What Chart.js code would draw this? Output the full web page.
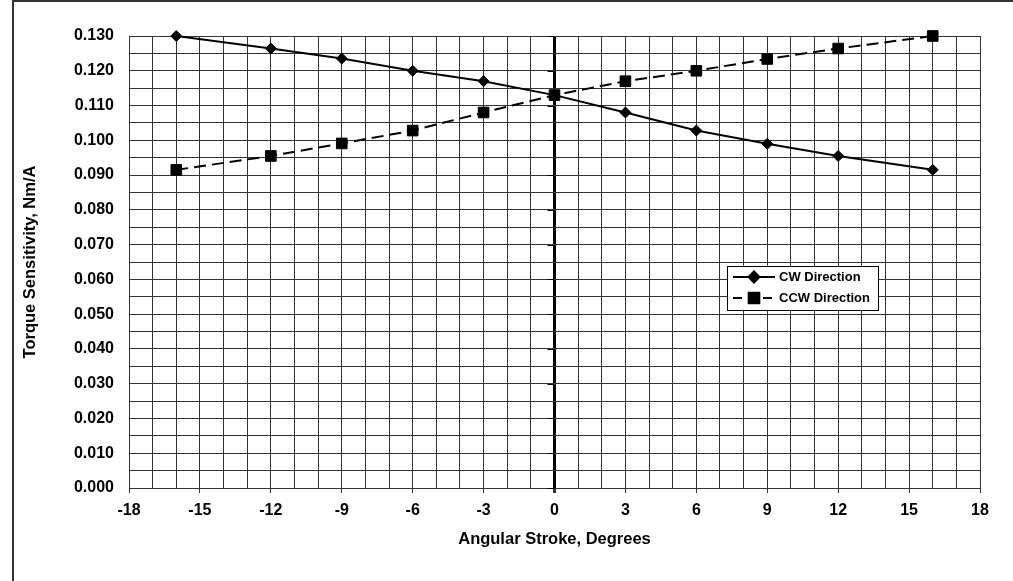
<!DOCTYPE html>
<html>
<head>
<meta charset="utf-8">
<script src="https://cdn.jsdelivr.net/npm/chart.js@4/dist/chart.umd.min.js"></script>
<style>
  html, body { margin:0; padding:0; background:#fff; }
  #wrap { width:1013px; height:581px; }
</style>
</head>
<body>
<div id="wrap"><canvas id="c" width="1013" height="581"></canvas></div>
<script>
// angle (deg) vs torque sensitivity (Nm/A)
const angles    = [-16, -12, -9, -6, -3, 0, 3, 6, 9, 12, 16];
const cwValues  = [0.1300, 0.1264, 0.1235, 0.1200, 0.1170, 0.1130, 0.1080, 0.1028, 0.0990, 0.0955, 0.0915];
const ccwValues = [0.0915, 0.0955, 0.0991, 0.1028, 0.1080, 0.1130, 0.1170, 0.1200, 0.1234, 0.1264, 0.1300];
const seriesNames = ['CW Direction', 'CCW Direction'];
const xTickStep = 3;
const yTickStep = 0.010;

const FONT = '"Liberation Sans", Arial, sans-serif';
const GRID = '#333';

const toPts = vals => angles.map((a, i) => ({x: a, y: vals[i]}));
const isMajorY = v => Math.round(v * 1000) % Math.round(yTickStep * 1000) === 0;

// white background + outer frame (left/top only, rest is cropped)
const frame = {
  id: 'frame',
  beforeDraw(chart){
    const ctx = chart.ctx;
    ctx.save();
    ctx.fillStyle = '#fff';
    ctx.fillRect(0, 0, chart.width, chart.height);
    ctx.strokeStyle = '#333';
    ctx.lineWidth = 2;
    ctx.beginPath();
    ctx.moveTo(13, chart.height);
    ctx.lineTo(13, 1);
    ctx.lineTo(chart.width, 1);
    ctx.stroke();
    ctx.restore();
  }
};

// small tick marks on the value axis crossing at x = 0
const zeroAxisTicks = {
  id: 'zeroAxisTicks',
  beforeDatasetsDraw(chart){
    const {ctx, scales:{x, y}} = chart;
    const px = x.getPixelForValue(0);
    ctx.save();
    ctx.strokeStyle = '#000';
    ctx.lineWidth = 1;
    for (let v = 0; v <= 0.1301; v += yTickStep) {
      const py = Math.round(y.getPixelForValue(v)) + 0.5;
      ctx.beginPath();
      ctx.moveTo(px - 7, py);
      ctx.lineTo(px, py);
      ctx.stroke();
    }
    ctx.restore();
  }
};

// legend box inside the plot, like the original
const boxLegend = {
  id: 'boxLegend',
  afterDraw(chart){
    const ctx = chart.ctx;
    const bx = 727.5, by = 266.5, bw = 151, bh = 44;
    ctx.save();
    ctx.fillStyle = '#fff';
    ctx.fillRect(bx, by, bw, bh);
    ctx.strokeStyle = '#000';
    ctx.lineWidth = 1;
    ctx.strokeRect(bx, by, bw, bh);
    const rows = [277, 298];
    chart.data.datasets.forEach((ds, i) => {
      const yy = rows[i];
      ctx.strokeStyle = '#000';
      ctx.lineWidth = 2;
      ctx.setLineDash(ds.borderDash ? [9, 6] : []);
      ctx.beginPath();
      ctx.moveTo(733, yy);
      ctx.lineTo(775, yy);
      ctx.stroke();
      ctx.setLineDash([]);
      Chart.helpers.drawPoint(ctx, {pointStyle: ds.pointStyle, radius: ds.pointRadius, borderWidth: 1}, 754, yy);
      ctx.fillStyle = '#000';
      ctx.fill();
      ctx.fillStyle = '#000';
      ctx.font = 'bold 13px ' + FONT;
      ctx.textBaseline = 'middle';
      ctx.textAlign = 'left';
      ctx.fillText(ds.label, 779, yy);
    });
    ctx.restore();
  }
};

new Chart(document.getElementById('c'), {
  type: 'line',
  data: {
    datasets: [
      { label: seriesNames[0], data: toPts(cwValues), borderColor:'#000', backgroundColor:'#000', clip: false,
        borderWidth: 2, pointStyle:'rectRot', pointRadius: 5.5, pointBorderWidth: 1, tension: 0 },
      { label: seriesNames[1], data: toPts(ccwValues), borderColor:'#000', backgroundColor:'#000', clip: false,
        borderWidth: 2, borderDash:[12, 6], pointStyle:'rect', pointRadius: 7.5, pointBorderWidth: 1, tension: 0 }
    ]
  },
  options: {
    responsive: false,
    animation: false,
    layout: { padding: { top: 36, right: 33, left: 0, bottom: 0 } },
    plugins: { legend: { display:false }, tooltip: { enabled:false } },
    scales: {
      x: {
        type: 'linear', min: -18, max: 18,
        afterFit(s){ s.height = 93; },
        ticks: {
          stepSize: 1, autoSkip: false, maxRotation: 0, padding: 8,
          color: '#000', font: { family: FONT, size: 16, weight: 'bold' },
          callback: v => (v % xTickStep === 0 ? String(v) : '')
        },
        grid: {
          color: c => (c.tick && c.tick.value === 0 ? '#000' : GRID),
          lineWidth: c => (c.tick && c.tick.value === 0 ? 3 : 1),
          tickLength: 5,
          tickColor: c => (c.tick && c.tick.value % xTickStep === 0 ? GRID : 'rgba(0,0,0,0)')
        },
        border: { color: GRID, width: 1 },
        title: { display: true, text: 'Angular Stroke, Degrees', color:'#000',
          font: { family: FONT, size: 16.5, weight: 'bold' }, padding: { top: 0, bottom: 32 } }
      },
      y: {
        min: 0, max: 0.130,
        afterFit(s){ s.width = 129; },
        ticks: {
          stepSize: 0.005, autoSkip: false, padding: 15,
          color: '#000', font: { family: FONT, size: 16, weight: 'bold' },
          callback: v => (isMajorY(v) ? v.toFixed(3) : '')
        },
        grid: { color: GRID, lineWidth: 1, drawTicks: false },
        border: { color: GRID, width: 1 },
        title: { display: true, text: 'Torque Sensitivity, Nm/A', color:'#000',
          font: { family: FONT, size: 16.5, weight: 'bold' }, padding: { top: 21, bottom: 0 } }
      }
    }
  },
  plugins: [frame, zeroAxisTicks, boxLegend]
});
</script>
</body>
</html>
